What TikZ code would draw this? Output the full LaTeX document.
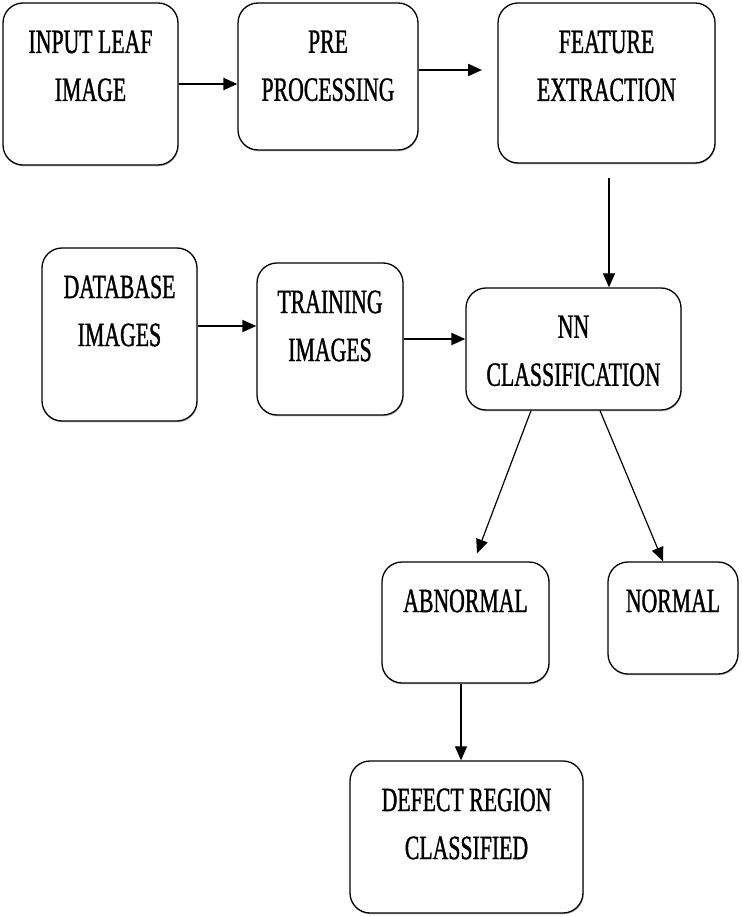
\documentclass[tikz,border=0pt]{standalone}
\usepackage{fontspec}
\newfontfamily\blkfont[FakeStretch=0.64,FakeBold=1]{Liberation Serif}
\usetikzlibrary{arrows.meta,shadows}

\tikzset{
  blk/.style={draw, fill=white, rounded corners=20pt, line width=1.3pt, inner sep=0pt,
    drop shadow={shadow xshift=0.6pt, shadow yshift=-1.4pt, fill=black!45}},
  blktext/.style={anchor=north, inner sep=0pt, align=center,
    font=\blkfont\fontsize{34}{48}\selectfont},
  arr/.style={-{Triangle[length=14pt,width=12pt]}, line width=1.2pt},
}

\begin{document}
\begin{tikzpicture}[x=1pt,y=-1pt]
    \useasboundingbox (0,0) rectangle (741,917);
    % blocks: name/x/y/width/height/text
    \foreach \n/\x/\y/\w/\h/\t in {
        inp/90.5/84/175/162/{INPUT LEAF\\IMAGE},
        pre/328/76.5/180/147/{PRE\\PROCESSING},
        fea/606.5/83/217/160/{FEATURE\\EXTRACTION},
        dbs/119.5/334.5/155/173/{DATABASE\\IMAGES},
        trn/330/339/146/152/{TRAINING\\IMAGES},
        nnc/573.5/349/215/122/{NN\\CLASSIFICATION},
        abn/465.5/622.5/167/121/{ABNORMAL},
        nrm/673/618/130/112/{NORMAL},
        dfc/466.5/837/233/152/{DEFECT REGION\\CLASSIFIED}}{
      \node[blk, minimum width=\w pt, minimum height=\h pt,
        label={[blktext, yshift=-28pt]north:\t}] (\n) at (\x,\y) {};
    }
    \coordinate (pe) at (482,70);
    \coordinate (fs) at (609,178);
    \draw[arr, line width=2.2pt] (inp.east) -- (inp.east -| pre.west);
    \draw[arr, line width=2.2pt] (pre.east |- pe) -- (pe);
    \draw[arr] (fs) -- (fs |- nnc.north);
    \draw[arr, line width=1.8pt] ([yshift=8.5pt]dbs.east) -- ([yshift=8.5pt]dbs.east -| trn.west);
    \draw[arr, line width=2pt] (trn.east) -- (trn.east -| nnc.west);
    \draw[arr] ([xshift=-42.5pt]nnc.south) -- ([xshift=11.5pt,yshift=8pt]abn.north);
    \draw[arr] ([xshift=26.5pt]nnc.south) -- ([xshift=-10pt]nrm.north);
    \draw[arr] ([xshift=-4.5pt]abn.south) -- ([xshift=-4.5pt]abn.south |- dfc.north);
  \end{tikzpicture}
\end{document}
